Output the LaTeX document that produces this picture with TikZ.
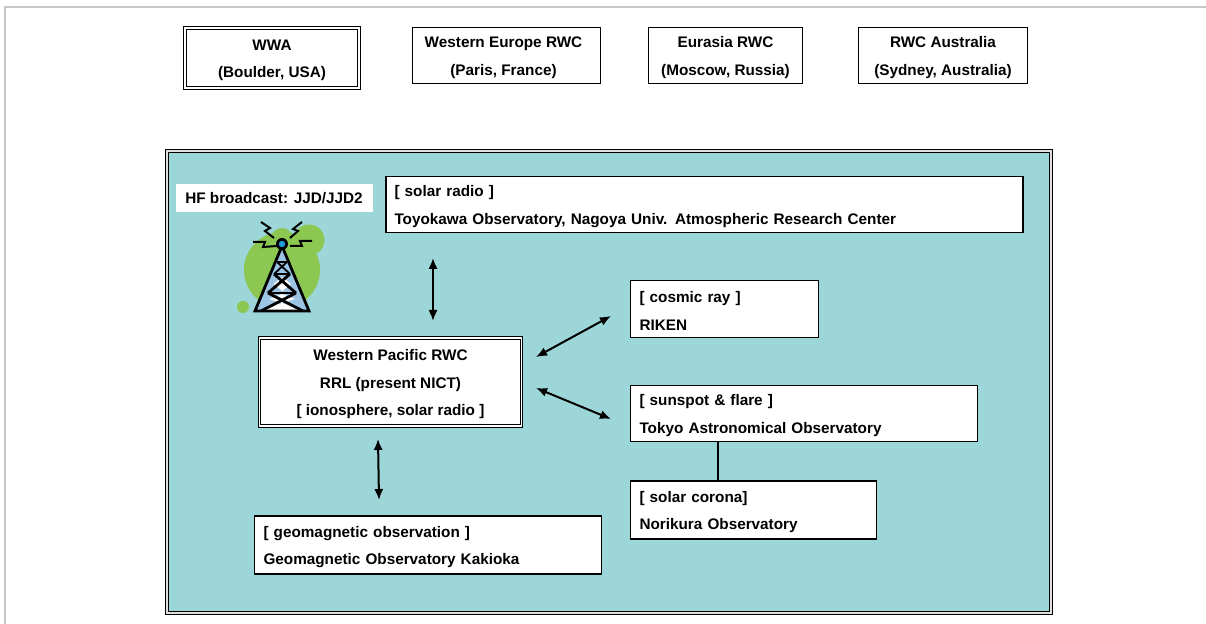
\documentclass[tikz,border=0pt]{standalone}
\usepackage{fontspec}
\setmainfont{Liberation Sans}
\usetikzlibrary{arrows.meta}
\definecolor{panel}{HTML}{9DD6D9}
\definecolor{blob}{HTML}{8CC751}
\definecolor{mast}{HTML}{9CC4E4}
\definecolor{lamp}{HTML}{1E9BD7}
\newcommand\firstline{\rule{0pt}{7.6pt}}
\tikzset{
  lab/.style={font=\bfseries\fontsize{7.65}{13.7}\selectfont, text=black},
  cbox/.style={lab, draw=black, line width=0.55pt, fill=white, align=center, inner sep=0pt},
  lbox/.style={cbox, align=left, execute at begin node={\rule{0pt}{7.6pt}}},
  dbox/.style={cbox, line width=0.6pt, double=white, double distance=0.7pt},
  conn/.style={black, line width=1pt, {Latex[length=5.5pt,width=4.6pt]}-{Latex[length=5.5pt,width=4.6pt]}},
  bolt/.style={line width=1pt, black, line join=miter},
  twr/.style={line width=1.4pt, black, line join=miter}
}
\begin{document}
\begin{tikzpicture}[x=0.5pt,y=-0.5pt]
\useasboundingbox (0,0) rectangle (1206,624);
\fill[white] (0,0) rectangle (1206,624);
\draw[black!22, line width=1pt] (5,624) -- (5,7) -- (1206,7);
% top row
\node[dbox, minimum width=87pt, minimum height=30pt] (wwa) at (272,58) {\firstline WWA\\(Boulder, USA)};
\node[cbox, minimum width=94pt, minimum height=28pt] (weu) at (506.5,55.5) {\firstline\hspace*{-3pt}Western Europe RWC\\\hspace*{-3pt}(Paris, France)};
\node[cbox, minimum width=77pt, minimum height=28pt] (eur) at (725.5,55.5) {\firstline Eurasia RWC\\(Moscow, Russia)};
\node[cbox, minimum width=84.5pt, minimum height=28pt] (aus) at (943,55.5) {\firstline RWC Australia\\(Sydney, Australia)};
% panel
\node[draw=black, line width=0.6pt, double=black!12, double distance=0.6pt, fill=panel, minimum width=442pt, minimum height=231pt, inner sep=0pt] (panel) at (609,382) {};
% broadcast label
\node[lab, fill=white, minimum width=98.5pt, minimum height=14pt, inner sep=0pt] (hf) at (274,198.5) {HF broadcast: JJD/JJD2};
% tower icon
\fill[blob] (282,270) circle[radius=38];
\fill[blob] (309,240) circle[radius=15.5];
\fill[blob] (282,239) circle[radius=11];
\fill[blob] (243,307) circle[radius=6];
\fill[mast] (282,246) -- (254,312) -- (310,312) -- cycle;
\fill[white] (282.3,277) -- (291,284) -- (282.3,291) -- (273.5,284) -- cycle;
\fill[white] (282,294) -- (295,299) -- (282,303) -- (269,299) -- cycle;
\fill[white] (282,303) -- (301,310) -- (263,310) -- cycle;
\draw[twr] (282,246) -- (255,311) -- (309,311) -- cycle;
\draw[twr, line width=0.9pt] (277,262) -- (287,262);
\draw[twr] (274,274) -- (290,274) (268,293) -- (296,293);
\draw[twr, line width=0.9pt] (277,262) -- (290,274) (287,262) -- (274,274);
\draw[twr] (274,274) -- (296,293) (290,274) -- (268,293);
\draw[twr] (268,293) -- (303,311) (296,293) -- (261,311);
\fill[black] (282,244) circle[radius=6];
\fill[lamp] (282,244) circle[radius=3.2];
\draw[bolt] (274,238) -- (265,231) -- (270,228) -- (261,222);
\draw[bolt] (290,238) -- (298,231) -- (293,229) -- (302,222);
\draw[bolt] (277,246) -- (263,247) -- (265,242) -- (253,242);
\draw[bolt] (290,246) -- (302,246) -- (300,241) -- (312,241);
% boxes
\node[lbox, minimum width=318.5pt, minimum height=28pt, text width=310pt] (radio) at (704.5,204.5) {[ solar radio ]\\Toyokawa Observatory, Nagoya Univ. Atmospheric Research Center};
\node[lbox, minimum width=94pt, minimum height=28.5pt, text width=85pt] (cosmic) at (724.5,309) {[ cosmic ray ]\\RIKEN};
\node[lbox, minimum width=173.5pt, minimum height=28pt, text width=164.5pt] (spot) at (804,413.5) {[ sunspot \& flare ]\\Tokyo Astronomical Observatory};
\node[lbox, minimum width=123pt, minimum height=29pt, text width=114pt] (corona) at (753.5,510) {[ solar corona]\\Norikura Observatory};
\node[lbox, minimum width=173.5pt, minimum height=29pt, text width=164.5pt] (geo) at (428,545) {[ geomagnetic observation ]\\Geomagnetic Observatory Kakioka};
\node[dbox, minimum width=131pt, minimum height=44pt] (rwc) at (390.5,382) {\firstline Western Pacific RWC\\RRL (present NICT)\\{[ ionosphere, solar radio ]}};
% connector ends
\coordinate (a1) at (433,258);
\coordinate (a2) at (433,321);
\coordinate (b1) at (536,357);
\coordinate (b2) at (611,316);
\coordinate (c1) at (536,388);
\coordinate (c2) at (611,419);
\coordinate (d1) at (378,439);
\coordinate (d2) at (379,500);
\draw[conn] (a1) -- (a2);
\draw[conn] (b1) -- (b2);
\draw[conn] (c1) -- (c2);
\draw[conn] (d1) -- (d2);
\draw[black, line width=1.1pt] (spot.south -| 718,0) -- (corona.north -| 718,0);
\end{tikzpicture}
\end{document}
